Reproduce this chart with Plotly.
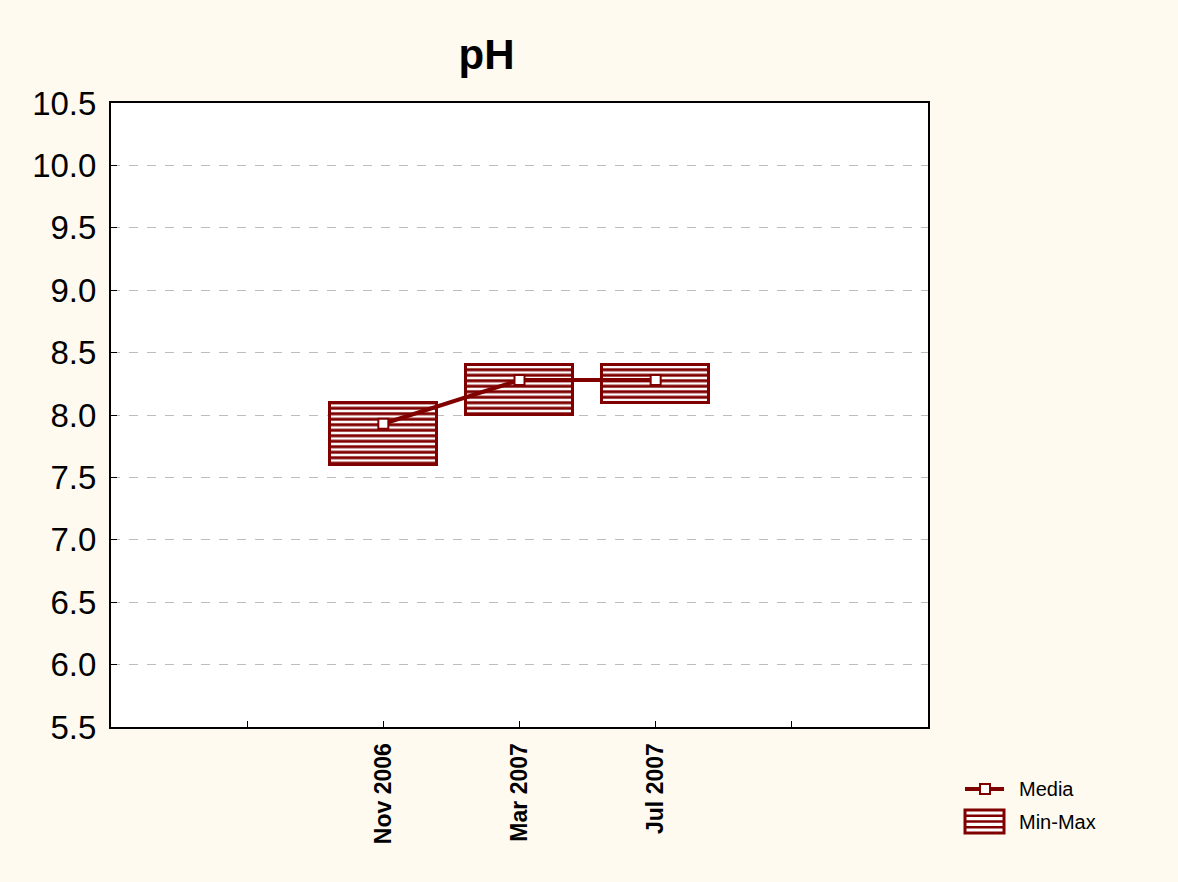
import plotly.graph_objects as go

# Sampling campaigns and pH statistics
campaigns = ["Nov 2006", "Mar 2007", "Jul 2007"]
ph_mean = [7.93, 8.28, 8.28]
ph_min = [7.60, 8.00, 8.10]
ph_max = [8.10, 8.40, 8.40]

# numeric slots: campaigns sit at 2, 3, 4 on a 0..6 axis
pos = [i + 2 for i in range(len(campaigns))]
tick_pos = [1, 2, 3, 4, 5]
tick_text = [""] + [f"<b>{c}</b>" for c in campaigns] + [""]

DARK_RED = "#800000"
FONT = "Liberation Sans, Arial, sans-serif"

# plot-area geometry in pixels (used for the hand-drawn legend)
W, H = 1178, 882
L, R, T, B = 111, 250, 103, 155


def px_x(px):
    return (px - L) / (W - L - R)


def px_y(py):
    return (H - B - py) / (H - T - B)


fig = go.Figure()

fig.add_trace(go.Bar(
    x=pos,
    base=ph_min,
    y=[hi - lo for hi, lo in zip(ph_max, ph_min)],
    width=0.79,
    name="Min-Max",
    showlegend=False,
    marker=dict(
        color="white",
        line=dict(color=DARK_RED, width=3),
        pattern=dict(shape="-", fgcolor=DARK_RED, bgcolor="white",
                     fgopacity=1, size=5.5, solidity=0.55, fillmode="replace"),
    ),
    hoverinfo="skip",
))

fig.add_trace(go.Scatter(
    x=pos,
    y=ph_mean,
    mode="lines+markers",
    name="Media",
    showlegend=False,
    line=dict(color=DARK_RED, width=4),
    marker=dict(symbol="square", size=10, color="white",
                line=dict(color=DARK_RED, width=2)),
))

# legend: Media entry (line with square marker)
shapes = []
annotations = []
ly1 = 789
shapes.append(dict(type="line", xref="paper", yref="paper",
                   x0=px_x(965), x1=px_x(1004), y0=px_y(ly1), y1=px_y(ly1),
                   line=dict(color=DARK_RED, width=4)))
shapes.append(dict(type="rect", xref="paper", yref="paper",
                   x0=px_x(980), x1=px_x(990), y0=px_y(ly1 - 5), y1=px_y(ly1 + 5),
                   fillcolor="white", line=dict(color=DARK_RED, width=2)))
# legend: Min-Max entry (striped box)
bx0, bx1, by0, by1 = 965, 1004, 810, 833
shapes.append(dict(type="rect", xref="paper", yref="paper",
                   x0=px_x(bx0), x1=px_x(bx1), y0=px_y(by0), y1=px_y(by1),
                   fillcolor="white", line=dict(color=DARK_RED, width=3)))
for k in range(1, 4):
    yy = by0 + k * (by1 - by0) / 4
    shapes.append(dict(type="line", xref="paper", yref="paper",
                       x0=px_x(bx0), x1=px_x(bx1), y0=px_y(yy), y1=px_y(yy),
                       line=dict(color=DARK_RED, width=2.5)))
for label, yy in (("Media", ly1), ("Min-Max", (by0 + by1) / 2)):
    annotations.append(dict(text=label, xref="paper", yref="paper",
                            x=px_x(1017), y=px_y(yy), xanchor="left", yanchor="middle",
                            showarrow=False, font=dict(size=20, family=FONT, color="black")))

fig.update_layout(
    width=W,
    height=H,
    paper_bgcolor="#FEFAF0",
    plot_bgcolor="white",
    margin=dict(l=L, r=R, t=T, b=B),
    font=dict(family=FONT, color="black"),
    title=dict(text="<b>pH</b>", x=0.413, xanchor="center", y=0.938,
               yanchor="middle", font=dict(size=42)),
    showlegend=False,
    shapes=shapes,
    annotations=annotations,
    bargap=0,
)

fig.update_xaxes(
    range=[0, 6],
    tickvals=tick_pos,
    ticktext=tick_text,
    tickangle=-90,
    tickfont=dict(size=23, family=FONT),
    ticks="inside",
    ticklen=6,
    tickcolor="black",
    ticklabelstandoff=5,
    showline=True,
    linecolor="black",
    linewidth=2,
    mirror=True,
    showgrid=False,
    zeroline=False,
)

fig.update_yaxes(
    range=[5.5, 10.5],
    dtick=0.5,
    tick0=5.5,
    tickformat=".1f",
    tickfont=dict(size=33),
    ticks="inside",
    ticklen=6,
    tickcolor="black",
    ticklabelstandoff=6,
    showline=True,
    linecolor="black",
    linewidth=2,
    mirror=True,
    showgrid=True,
    gridcolor="#BDBDBD",
    griddash="dash",
    gridwidth=1,
    zeroline=False,
)

fig.write_html("out.html")
